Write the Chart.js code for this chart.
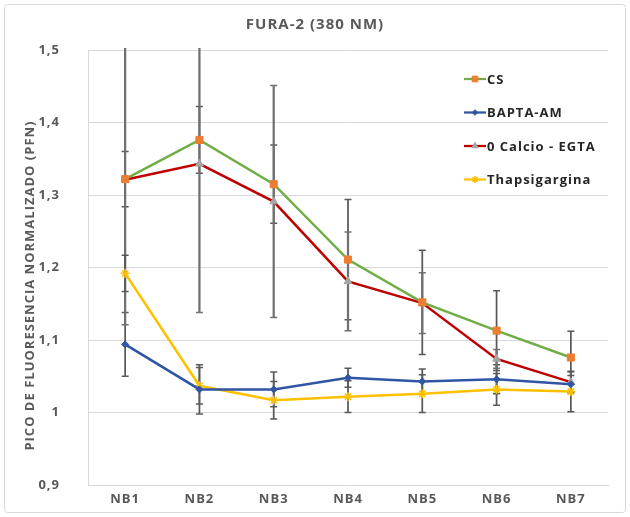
<!DOCTYPE html>
<html>
<head>
<meta charset="utf-8">
<title>FURA-2 (380 NM)</title>
<script src="https://cdn.jsdelivr.net/npm/chart.js"></script>
<style>
	html, body { margin: 0; padding: 0; background: #fff; }
	#wrap { width: 630px; height: 517px; }
</style>
</head>
<body>
<div id="wrap"><canvas id="furaChart" width="630" height="517"></canvas></div>
<script>
// categories and tick labels
const categories = ['NB1', 'NB2', 'NB3', 'NB4', 'NB5', 'NB6', 'NB7'];
const yTickLabels = ['0,9', '1', '1,1', '1,2', '1,3', '1,4', '1,5'];
const yAxisTitle = 'PICO DE FLUORESENCIA NORMALIZADO (PFN)';

// series values
const csValues = [1.322, 1.376, 1.315, 1.211, 1.152, 1.113, 1.076];
const baptaValues = [1.094, 1.032, 1.032, 1.048, 1.043, 1.046, 1.039];
const calcioValues = [1.321, 1.343, 1.291, 1.181, 1.151, 1.074, 1.042];
const thapsValues = [1.192, 1.037, 1.017, 1.022, 1.026, 1.032, 1.029];

// error bar half-widths (+/-)
const csErrors = [0.038, 0.046, 0.054, 0.083, 0.072, 0.055, 0.036];
const baptaErrors = [0.044, 0.034, 0.024, 0.013, 0.017, 0.020, 0.012];
const calcioErrors = [0.200, 0.205, 0.160, 0.068, 0.042, 0.013, 0.014];
const thapsErrors = [0.025, 0.025, 0.026, 0.022, 0.026, 0.022, 0.028];

const textColor = '#595959';
const fontFamily = "'Open Sans', 'Noto Sans', sans-serif";

// Excel-like text is a bit spaced out
const spacing = {
	id: 'spacing',
	beforeUpdate(chart) {
		chart.ctx.letterSpacing = '1px';
	},
	beforeDraw(chart) {
		chart.ctx.letterSpacing = '1px';
	}
};

// light frame round the whole chart
const frame = {
	id: 'frame',
	beforeDraw(chart) {
		const ctx = chart.ctx;
		ctx.save();
		ctx.fillStyle = '#fff';
		ctx.fillRect(0, 0, chart.width, chart.height);
		ctx.strokeStyle = '#d9d9d9';
		ctx.lineWidth = 1;
		ctx.beginPath();
		ctx.roundRect(4.5, 4.5, chart.width - 9, chart.height - 9, 3);
		ctx.stroke();
		ctx.restore();
	}
};

// rotated value-axis title, sits a bit below the plot centre like the original
const axisTitle = {
	id: 'axisTitle',
	afterDraw(chart) {
		const ctx = chart.ctx;
		const area = chart.chartArea;
		ctx.save();
		ctx.translate(30, (area.top + area.bottom) / 2 + 18);
		ctx.rotate(-Math.PI / 2);
		ctx.font = 'bold 13px ' + fontFamily;
		ctx.fillStyle = textColor;
		ctx.textAlign = 'center';
		ctx.textBaseline = 'middle';
		ctx.fillText(yAxisTitle, 0, 0);
		ctx.restore();
	}
};

// vertical error bars with caps, drawn under the lines
const errorBars = {
	id: 'errorBars',
	beforeDatasetsDraw(chart) {
		const ctx = chart.ctx;
		const area = chart.chartArea;
		const xs = chart.scales.x;
		const ys = chart.scales.y;
		ctx.save();
		ctx.beginPath();
		ctx.rect(area.left, area.top - 2, area.right - area.left, area.bottom - area.top + 2);
		ctx.clip();
		chart.data.datasets.forEach(function (ds) {
			ds.data.forEach(function (v, i) {
				const e = ds.errors[i];
				const px = xs.getPixelForValue(i);
				const top = ys.getPixelForValue(v + e);
				const bot = ys.getPixelForValue(v - e);
				ctx.strokeStyle = ds.errorColor;
				ctx.lineWidth = ds.errorWidth;
				ctx.beginPath();
				ctx.moveTo(px, top);
				ctx.lineTo(px, bot);
				ctx.stroke();
				ctx.lineWidth = 1.5;
				ctx.beginPath();
				ctx.moveTo(px - 3.5, top);
				ctx.lineTo(px + 3.5, top);
				ctx.moveTo(px - 3.5, bot);
				ctx.lineTo(px + 3.5, bot);
				ctx.stroke();
			});
		});
		ctx.restore();
	}
};

// legend drawn inside the plot, upper right
const insideLegend = {
	id: 'insideLegend',
	afterDraw(chart) {
		const ctx = chart.ctx;
		const area = chart.chartArea;
		const x0 = area.left + 376;
		let y = area.top + 29;
		ctx.save();
		ctx.font = 'bold 13px ' + fontFamily;
		ctx.textBaseline = 'middle';
		chart.data.datasets.forEach(function (ds) {
			ctx.strokeStyle = ds.borderColor;
			ctx.lineWidth = 2.25;
			ctx.beginPath();
			ctx.moveTo(x0, y);
			ctx.lineTo(x0 + 22, y);
			ctx.stroke();
			ctx.fillStyle = ds.pointBackgroundColor;
			ctx.strokeStyle = ds.pointBorderColor;
			ctx.lineWidth = ds.pointBorderWidth;
			Chart.helpers.drawPoint(ctx, {
				pointStyle: ds.pointStyle,
				radius: ds.pointRadius * 0.8,
				borderWidth: ds.pointBorderWidth
			}, x0 + 11, y);
			ctx.fillStyle = '#262626';
			ctx.fillText(ds.label, x0 + 23, y + 1);
			y += 33.5;
		});
		ctx.restore();
	}
};

const datasets = [
	{
		label: 'CS',
		data: csValues,
		errors: csErrors,
		borderColor: '#70AD47',
		pointBackgroundColor: '#ED7D31',
		pointBorderColor: '#ED7D31',
		pointStyle: 'rect',
		pointRadius: 5,
		pointBorderWidth: 1,
		errorColor: '#595959',
		errorWidth: 1.75
	},
	{
		label: 'BAPTA-AM',
		data: baptaValues,
		errors: baptaErrors,
		borderColor: '#2F55A4',
		pointBackgroundColor: '#2F55A4',
		pointBorderColor: '#2F55A4',
		pointStyle: 'rectRot',
		pointRadius: 3.5,
		pointBorderWidth: 1,
		errorColor: '#595959',
		errorWidth: 1.75
	},
	{
		label: '0 Calcio - EGTA',
		data: calcioValues,
		errors: calcioErrors,
		borderColor: '#C00000',
		pointBackgroundColor: '#A5A5A5',
		pointBorderColor: '#A5A5A5',
		pointStyle: 'triangle',
		pointRadius: 4.5,
		pointBorderWidth: 1,
		errorColor: '#707070',
		errorWidth: 2.25
	},
	{
		label: 'Thapsigargina',
		data: thapsValues,
		errors: thapsErrors,
		borderColor: '#FFC000',
		pointBackgroundColor: '#FFC000',
		pointBorderColor: '#FFC000',
		pointStyle: 'star',
		pointRadius: 4.5,
		pointBorderWidth: 1.5,
		errorColor: '#595959',
		errorWidth: 1.75
	}
];
datasets.forEach(function (ds) {
	ds.borderWidth = 2.5;
	ds.tension = 0;
	ds.fill = false;
	ds.pointHoverRadius = ds.pointRadius;
});

const furaChart = new Chart(document.getElementById('furaChart'), {
	type: 'line',
	data: {
		labels: categories,
		datasets: datasets
	},
	options: {
		responsive: false,
		animation: false,
		layout: {
			padding: { left: 22, right: 22, top: 1, bottom: 6 }
		},
		plugins: {
			legend: { display: false },
			tooltip: { enabled: false },
			title: {
				display: true,
				text: 'FURA-2 (380 NM)',
				color: textColor,
				font: { family: fontFamily, size: 15, weight: 'bold', lineHeight: 1.2 },
				padding: { top: 15, bottom: 16 }
			}
		},
		scales: {
			x: {
				offset: true,
				afterFit: function (scale) { scale.height = 22; },
				grid: { display: false, drawTicks: false },
				border: { display: true, color: '#d9d9d9', width: 1 },
				ticks: {
					color: textColor,
					padding: 6,
					font: { family: fontFamily, size: 13, weight: 'bold' }
				}
			},
			y: {
				min: 0.9,
				max: 1.5,
				afterFit: function (scale) { scale.width = 66; },
				grid: { color: '#d9d9d9', lineWidth: 1, drawTicks: false },
				border: { display: true, color: '#d9d9d9', width: 1 },
				ticks: {
					stepSize: 0.1,
					color: textColor,
					padding: 28,
					// small line height keeps the label padding from lifting the plot bottom
					font: { family: fontFamily, size: 13, weight: 'bold', lineHeight: 0.6 },
					callback: function (value, index) {
						return yTickLabels[index];
					}
				},
				title: { display: false }
			}
		}
	},
	plugins: [spacing, frame, errorBars, insideLegend, axisTitle]
});
</script>
</body>
</html>
